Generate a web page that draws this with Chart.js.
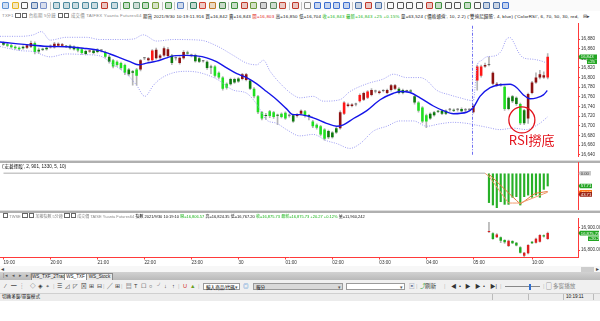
<!DOCTYPE html>
<html>
<head>
<meta charset="utf-8">
<title>TXF1 台指期 5分鐘</title>
<script src="https://cdn.jsdelivr.net/npm/chart.js@4.4.1/dist/chart.umd.min.js"></script>
<style>
  body { margin: 0; width: 600px; height: 321px; overflow: hidden; background: #fff; position: relative;
         font-family: "Liberation Sans", "Noto Sans CJK TC", sans-serif; }
  canvas { position: absolute; left: 0; }
  .abs { position: absolute; }
  .info { position: absolute; white-space: nowrap; font-size: 4.6px; line-height: 6px; color: #111; }
  .hdr { font-size: 4.4px; letter-spacing: 0.2px; }
  .hdr2 { font-size: 4px; }
  .gy { color: #8a8a8a; }
  .r { color: #e01818; }
  .g { color: #16b316; }
  .bx { display: inline-block; width: 3.2px; height: 3.2px; border: 0.7px solid #666; vertical-align: -0.4px; margin: 0 0.5px; }
  .sep { position: absolute; left: 0; width: 600px; height: 1.6px; background: #b0b0b0; border-top: 0.6px solid #dedede; }
  .tab { position: absolute; top: 273px; height: 6px; line-height: 6px; font-size: 4.6px; text-align: center;
         background: #e6e6e6; border: 0.5px solid #8a8a8a; border-bottom: none; color: #222; }
  .tab.act { background: #fff; }
  .box { position: absolute; border: 0.6px solid #9a9a9a; height: 7px; line-height: 7px; font-size: 4.6px; padding-left: 2px; box-sizing: border-box; }
</style>
</head>
<body>

<div id="toolbar" class="abs" style="left:0;top:0;width:600px;height:11px;background:#fafafa"></div>

<div class="info hdr" style="top:12.5px;left:2px"><span class="gy">TXF1 <i class="bx"></i><i class="bx"></i> 台指期 5分鐘 <i class="bx"></i><i class="bx"></i> 成交價 TAIFEX Yuanta Futures64</span> 期貨 2021/9/30 10:19:11.916 買=16,842 賣=16,843 <span class="r">開=16,803</span> 高=16,850 低=16,704 <span class="g">收=16,843 最新=16,843 +25 +0.15%</span> 量=63,524 ('價格通道', 10, 2.2) ('雙迪尼歸隨', 4, blue) ('ColorRSI', 6, 70, 50, 30, red,</div>
<div class="info" style="top:12.5px;left:583px;font-size:5px;color:#333">⊟▸</div>

<canvas id="main" width="600" height="140" style="top:20px"></canvas>
<div class="sep" style="top:160px"></div>

<canvas id="osc" width="600" height="48" style="top:162px"></canvas>
<div class="info" style="top:163.5px;left:2px">('宏碁擇股', 2, 901, 1330, 5, 10)</div>
<div class="sep" style="top:210px"></div>

<canvas id="twse" width="600" height="58" style="top:212px"></canvas>
<div class="info hdr2" style="top:213px;left:2px"><i class="bx"></i> <span class="gy">TWSE <i class="bx"></i><i class="bx"></i> 加權指數 5分鐘 <i class="bx"></i><i class="bx"></i> 成交價 TAISE Yuanta Futures64</span> 指數 2021/9/30 10:19:10 <span class="g">開=16,806.57</span> 高=16,824.35 低=16,767.20 <span class="g">收=16,875.73 最新=16,875.73 +20.27 +0.12%</span> 量=11,960,242</div>

<!-- scroll bar -->
<div class="abs" style="top:265.5px;left:0;width:600px;height:6.5px;background:#f7f7f7"></div>
<div class="info" style="top:265.5px;left:1px;font-size:5.5px;color:#444">◂</div>
<div class="abs" style="top:266.5px;left:581px;width:13px;height:5px;background:#cdcdcd"></div>
<div class="info" style="top:265.5px;left:595.5px;font-size:5.5px;color:#444">▸</div>

<!-- sheet tabs -->
<div class="abs" style="top:272px;left:0;width:600px;height:8px;background:linear-gradient(#d2d2d2,#bababa)"></div>
<div class="info" style="top:273px;left:3px;color:#555;letter-spacing:1.3px">|◂ ◂ ▸ ▸|</div>
<div class="tab" style="left:31px;width:33px">WS_TXF_2Trade</div>
<div class="tab act" style="left:64px;width:21px">WS_TXF</div>
<div class="tab" style="left:86px;width:25px">WS_Stock</div>

<!-- drawing tool row -->
<div id="tools" class="abs" style="top:280px;left:0;width:600px;height:13px;background:#f0f0f0"></div>

<!-- status bar -->
<div class="abs" style="top:293px;left:0;width:600px;height:7px;background:#ececec;border-top:0.5px solid #d0d0d0"></div>
<div class="info" style="top:293.5px;left:2px">切換多窗/單窗模式</div>
<div class="abs" style="top:294px;left:491.5px;width:0.6px;height:6px;background:#bbb"></div>
<div class="abs" style="top:294px;left:528px;width:0.6px;height:6px;background:#bbb"></div>
<div class="abs" style="top:294px;left:563px;width:0.6px;height:6px;background:#bbb"></div>
<div class="abs" style="top:294px;left:593px;width:0.6px;height:6px;background:#bbb"></div>
<div class="info" style="top:293.5px;left:566px">10:19:11</div>

<script>
'use strict';

function byId(id) { return document.getElementById(id); }
function _(tag) { return document.createElement(tag); }

// ---- TXF1 5-min bars: slot 0 = 19:00 ... slot 120 = 05:00, slot 121 = 08:50 ... slot 139 = 10:20
const txfOpen = [
  16872, 16869, 16867, 16864, 16862, 16864, 16862, 16864, 16872, 16858,
  16859, 16862, 16863, 16863, 16866, 16866, 16865, 16866, 16864, 16862,
  16859, 16855, 16854, 16856, 16858, 16856, 16853, 16843, 16836, 16833,
  16830, 16826, 16817, 16813, 16817, 16817, 16840, 16836, 16836, 16840,
  16841, 16846, 16845, 16846, 16840, 16830, 16840, 16851, 16846, 16847,
  16840, 16834, 16833, 16823, 16823, 16810, 16800, 16787, 16797, 16797,
  16798, 16797, 16795, 16794, 16777, 16761, 16728, 16722, 16730, 16728,
  16722, 16725, 16727, 16721, 16722, 16720, 16725, 16730, 16721, 16709,
  16702, 16699, 16692, 16689, 16686, 16695, 16695, 16725, 16741, 16741,
  16744, 16751, 16754, 16758, 16764, 16771, 16768, 16772, 16768, 16774,
  16777, 16777, 16774, 16772, 16773, 16761, 16748, 16738, 16722, 16725,
  16728, 16730, 16731, 16731, 16733, 16732, 16733, 16735, 16732, 16733,
  16728, 16794, 16804, 16823, 16826, 16787, 16784, 16785, 16781, 16758,
  16761, 16758, 16745, 16732, 16715, 16768, 16790, 16800, 16800, 16800
];
const txfHigh = [
  16874, 16871, 16869, 16866, 16864, 16866, 16869, 16876, 16874, 16861,
  16861, 16864, 16868, 16873, 16872, 16871, 16867, 16868, 16866, 16864,
  16861, 16857, 16857, 16858, 16860, 16858, 16855, 16846, 16838, 16835,
  16832, 16828, 16819, 16815, 16819, 16838, 16842, 16842, 16858, 16861,
  16848, 16864, 16862, 16848, 16843, 16843, 16856, 16855, 16849, 16849,
  16842, 16836, 16835, 16826, 16825, 16812, 16802, 16789, 16799, 16799,
  16800, 16809, 16809, 16796, 16779, 16763, 16730, 16726, 16732, 16730,
  16724, 16727, 16729, 16724, 16724, 16725, 16733, 16732, 16723, 16711,
  16704, 16701, 16694, 16691, 16688, 16697, 16731, 16750, 16747, 16746,
  16747, 16766, 16770, 16773, 16777, 16774, 16773, 16775, 16776, 16786,
  16786, 16779, 16776, 16774, 16775, 16763, 16750, 16740, 16724, 16727,
  16730, 16732, 16733, 16733, 16736, 16735, 16736, 16737, 16736, 16735,
  16744, 16826, 16826, 16830, 16843, 16812, 16790, 16788, 16783, 16760,
  16763, 16760, 16747, 16734, 16768, 16792, 16810, 16815, 16812, 16850
];
const txfLow = [
  16866, 16864, 16861, 16859, 16857, 16859, 16860, 16862, 16849, 16850,
  16856, 16857, 16861, 16861, 16864, 16864, 16862, 16859, 16857, 16853,
  16848, 16847, 16852, 16849, 16851, 16853, 16841, 16830, 16820, 16823,
  16817, 16806, 16804, 16784, 16784, 16814, 16837, 16834, 16834, 16838,
  16839, 16844, 16843, 16827, 16836, 16828, 16838, 16848, 16843, 16832,
  16831, 16832, 16817, 16808, 16801, 16797, 16774, 16776, 16784, 16788,
  16790, 16795, 16793, 16775, 16758, 16725, 16712, 16713, 16717, 16715,
  16702, 16716, 16713, 16718, 16707, 16718, 16723, 16718, 16712, 16696,
  16693, 16679, 16670, 16673, 16674, 16684, 16693, 16723, 16739, 16739,
  16741, 16749, 16752, 16756, 16762, 16768, 16766, 16770, 16766, 16772,
  16775, 16766, 16766, 16770, 16769, 16745, 16728, 16706, 16696, 16713,
  16720, 16727, 16723, 16723, 16730, 16729, 16730, 16728, 16729, 16731,
  16726, 16774, 16801, 16821, 16824, 16785, 16782, 16782, 16732, 16733,
  16748, 16742, 16702, 16702, 16705, 16766, 16788, 16797, 16798, 16797
];
const txfClose = [
  16868, 16866, 16863, 16861, 16859, 16861, 16867, 16872, 16853, 16854,
  16858, 16859, 16866, 16870, 16870, 16869, 16864, 16861, 16859, 16856,
  16851, 16849, 16855, 16851, 16853, 16856, 16843, 16833, 16823, 16826,
  16820, 16810, 16807, 16810, 16804, 16836, 16840, 16840, 16856, 16858,
  16846, 16861, 16859, 16830, 16840, 16841, 16853, 16850, 16846, 16834,
  16833, 16834, 16820, 16821, 16804, 16800, 16777, 16779, 16786, 16790,
  16792, 16807, 16807, 16777, 16761, 16728, 16715, 16720, 16720, 16718,
  16721, 16718, 16715, 16721, 16709, 16722, 16731, 16720, 16720, 16699,
  16696, 16682, 16673, 16676, 16676, 16686, 16728, 16748, 16744, 16744,
  16744, 16764, 16768, 16771, 16774, 16771, 16771, 16772, 16774, 16784,
  16784, 16768, 16768, 16772, 16771, 16748, 16731, 16709, 16709, 16715,
  16722, 16729, 16725, 16725, 16733, 16731, 16733, 16730, 16732, 16733,
  16741, 16823, 16823, 16826, 16826, 16810, 16787, 16784, 16735, 16735,
  16751, 16745, 16705, 16705, 16766, 16790, 16800, 16807, 16805, 16843
];
// bars drawn in the bright tone
const brightBars = [1, 2, 3, 4, 8, 19, 20, 26, 28, 29, 30, 31, 34, 38, 54, 55, 56, 57, 64, 65, 66,
  68, 69, 71, 72, 77, 79, 80, 81, 82, 87, 91, 93, 106, 107, 108, 121, 122, 128, 132, 139];

// moving average and price channel at these slots
const maSlots = [-0.9, 7.6, 11.9, 16.1, 20.4, 24.6, 27.2, 29.8, 32.3, 34.4, 36.6, 39.1, 41.7, 43.4, 46.8,
  49.3, 51.9, 54.4, 57.0, 59.6, 62.1, 64.7, 67.2, 69.8, 72.3, 74.0, 75.7, 79.1, 82.5, 85.1, 86.8, 89.4,
  92.8, 96.2, 99.6, 101.3, 103.8, 106.4, 109.8, 112.3, 114.9, 118.3, 120.0, 121.7, 124.3, 126.8, 129.4,
  131.1, 132.8, 134.5, 136.2, 137.9, 138.9];
const maValues = [16874, 16867, 16864.5, 16864, 16861, 16856, 16849, 16841, 16833, 16826.5, 16830, 16834,
  16841, 16845, 16846, 16845, 16841, 16833, 16820, 16808, 16800, 16787, 16771, 16754, 16735, 16723, 16723,
  16716.5, 16705, 16699, 16702, 16715, 16731.5, 16754, 16767.5, 16771, 16769, 16758, 16741, 16731.5, 16725,
  16728, 16738, 16761, 16779, 16785, 16786, 16779, 16764, 16756, 16758, 16764, 16773];
const upperSlots = [-0.9, 4.2, 7.6, 9.7, 11.9, 16.1, 21.2, 24.6, 29.8, 33.2, 35.7, 39.1, 43.4, 50.2, 54.4,
  58.7, 62.1, 64.7, 66.4, 68.1, 71.5, 74.0, 75.7, 79.1, 81.7, 85.9, 88.5, 92.8, 97.0, 99.6, 103.0, 106.4,
  108.1, 110.6, 114.0, 116.6, 120.0, 121.0, 122.0, 123.4, 125.5, 127.2, 128.4, 129.4, 130.4, 131.5, 132.8,
  135.3, 137.9, 138.7];
const upperValues = [16885.6, 16885.6, 16888.7, 16895.4, 16877.7, 16883.6, 16883.6, 16879, 16879, 16880,
  16888.7, 16875.8, 16879, 16877.7, 16866, 16846, 16830, 16826.5, 16836, 16813, 16781, 16764, 16758, 16761,
  16751, 16754, 16771, 16787, 16797, 16807, 16800, 16800, 16794, 16774, 16764, 16758, 16752, 16826, 16835,
  16843, 16845, 16856, 16879, 16883, 16872, 16853, 16841, 16838, 16833, 16830];
const lowerSlots = [-0.9, 4.2, 7.6, 11.9, 16.1, 21.2, 24.6, 28.1, 31.5, 34.0, 36.1, 38.3, 40.0, 43.4, 46.8,
  50.2, 54.4, 58.7, 62.1, 64.7, 67.2, 69.8, 72.3, 75.7, 79.1, 82.5, 85.1, 88.5, 91.1, 94.5, 97.9, 101.3,
  104.7, 108.1, 111.5, 114.9, 118.3, 120.9, 123.4, 126.8, 130.2, 133.6, 135.3, 137.0, 138.9];
const lowerValues = [16864.5, 16856, 16854, 16843, 16849, 16847.5, 16845, 16826.5, 16807, 16784, 16761,
  16784, 16797, 16810, 16813, 16810, 16797, 16774, 16767.5, 16744.6, 16712, 16705, 16692, 16679, 16682,
  16669, 16663, 16653, 16663, 16689, 16699, 16710, 16710, 16699, 16704, 16707, 16705, 16701, 16697, 16692,
  16695, 16692, 16697, 16705, 16718];

const priceTicks = [16640, 16660, 16680, 16700, 16720, 16740, 16760, 16780, 16800, 16820, 16840, 16860, 16880];
const sessionBreak = 119.75;
const bottomMark = { slot: 132.4, value: 16712 };
const bottomNote = { slot: 134.9, value: 16671, text: 'RSI撈底' };

// ---- '宏碁擇股' oscillator (day session only)
const oscFirstSlot = 124;
const oscBars = [133, 144, 156, 129, 141, 141, 109, 106, 144, 106, 99, 109, 99, 109, 73, 57.7];
const oscFastFirstSlot = 123;
const oscFast = [0, 14, 38, 62, 87, 111, 135, 135, 135, 135, 128, 121, 114, 107, 100, 93, 86];
const oscSlow = [4, 21, 38, 55, 72, 89, 106, 123, 139, 127, 114, 100, 90, 88, 85, 83];
const oscBaseSlots = [0, 123];
const oscBaseValues = [0, 0];

// ---- TWSE 加權指數 5-min bars, 09:05 .. 10:20
const twseFirstSlot = 124;
const twseOpen  = [16881, 16875, 16857, 16857, 16845, 16818, 16840, 16832, 16812, 16774, 16785, 16837, 16833, 16837, 16866, 16849];
const twseHigh  = [16924, 16878, 16874, 16859, 16847, 16844, 16842, 16834, 16815, 16790, 16824, 16839, 16853, 16869, 16868, 16880];
const twseLow   = [16878, 16847, 16855, 16833, 16830, 16815, 16828, 16818, 16786, 16770, 16783, 16828, 16831, 16835, 16858, 16847];
const twseClose = [16885, 16849, 16869, 16842, 16835, 16842, 16830, 16820, 16788, 16788, 16822, 16830, 16851, 16867, 16860, 16876];
const indexTicks = [16800, 16900];

const timeTickSlots  = [0, 12, 24, 36, 48, 60, 72, 84, 96, 108, 120, 135];
const timeTickLabels = ['19:00', '20:00', '21:00', '22:00', '23:00', '30', '01:00', '02:00', '03:00', '04:00', '05:00', '10:00'];

const xMin = -0.894;
const xMax = 146.74;

// ---- helpers
function pts(slots, values) { return values.map((v, i) => ({ x: slots[i], y: v })); }
function run(first, values) { return values.map((v, i) => ({ x: first + i, y: v })); }
function ranges(first, a, b) { return a.map((v, i) => ({ x: first + i, y: [v, b[i]] })); }

const AXIS_RED = '#ff3a3a';
const tickFont = { family: 'Liberation Sans', size: 4.6 };

function rightAxis(extra) {
  return Object.assign({
    position: 'right',
    afterFit: s => { s.width = 22; },
    grid: { drawOnChartArea: false, tickLength: 2, color: AXIS_RED },
    border: { color: AXIS_RED, width: 1 },
    ticks: { font: tickFont, color: '#333', padding: 1 }
  }, extra);
}
function hiddenX() {
  return { type: 'linear', min: xMin, max: xMax, display: false, offset: false };
}

// price tags on the right side of a pane
const tagPlugin = {
  id: 'tags',
  afterDraw(chart, args, opts) {
    const ctx = chart.ctx;
    const sc = chart.scales.y;
    const ax = chart.chartArea.right;
    ctx.save();
    for (const t of opts.items || []) {
      const y = sc.getPixelForValue(t.value) + (t.dy || 0);
      const h = t.h || 4.6;
      const x0 = ax + 2 + (t.l || 0);
      ctx.fillStyle = t.bg;
      ctx.beginPath();
      if (!t.l) {
        ctx.moveTo(ax + 0.5, y);
        ctx.lineTo(x0, y - h / 2);
      } else {
        ctx.moveTo(x0, y - h / 2);
      }
      ctx.lineTo(x0 + t.w, y - h / 2);
      ctx.lineTo(x0 + t.w, y + h / 2);
      ctx.lineTo(x0, y + h / 2);
      ctx.closePath();
      ctx.fill();
      ctx.fillStyle = t.fg || '#fff';
      ctx.font = '4.2px "Liberation Sans"';
      ctx.textBaseline = 'middle';
      ctx.textAlign = 'left';
      ctx.fillText(t.text, x0 + 0.8, y + 0.3);
    }
    ctx.restore();
  }
};

// session separator, circle and note on the price pane
const markPlugin = {
  id: 'marks',
  afterDatasetsDraw(chart, args, opts) {
    const { ctx, chartArea } = chart;
    const xs = chart.scales.x, ys = chart.scales.y;
    ctx.save();
    if (opts.vline !== undefined) {
      const x = Math.round(xs.getPixelForValue(opts.vline)) + 0.5;
      ctx.strokeStyle = '#6f6ff2';
      ctx.lineWidth = 1;
      ctx.setLineDash([3, 1.5, 1, 1.5]);
      ctx.beginPath();
      ctx.moveTo(x, chartArea.top + 2);
      ctx.lineTo(x, chartArea.bottom);
      ctx.stroke();
      ctx.setLineDash([]);
    }
    if (opts.circle) {
      ctx.strokeStyle = '#e3121b';
      ctx.lineWidth = 1.3;
      ctx.beginPath();
      ctx.arc(xs.getPixelForValue(opts.circle.slot), ys.getPixelForValue(opts.circle.value), 13, 0, Math.PI * 2);
      ctx.stroke();
    }
    if (opts.note) {
      ctx.fillStyle = '#e3121b';
      ctx.font = '13px "Noto Sans CJK TC"';
      ctx.textAlign = 'center';
      ctx.textBaseline = 'middle';
      ctx.fillText(opts.note.text, xs.getPixelForValue(opts.note.slot), ys.getPixelForValue(opts.note.value));
    }
    ctx.restore();
  }
};

function candleColor(o, c, i, bright) {
  if (c > o) return bright.includes(i) ? '#ff1616' : '#8e1212';
  if (c < o) return bright.includes(i) ? '#20e020' : '#0e7a0e';
  return '#6a6a6a';
}

const baseOptions = {
  responsive: false,
  animation: false,
  events: [],
  layout: { padding: 0 },
  plugins: { legend: { display: false }, tooltip: { enabled: false } }
};

// ---- price pane
new Chart(byId('main'), {
  data: {
    datasets: [
      {
        type: 'bar', grouped: false, order: 4,
        data: ranges(0, txfLow, txfHigh),
        backgroundColor: '#b4b4b4', barThickness: 1
      },
      {
        type: 'bar', grouped: false, order: 3, minBarLength: 1,
        data: ranges(0, txfOpen, txfClose),
        backgroundColor: ctx => candleColor(txfOpen[ctx.dataIndex], txfClose[ctx.dataIndex], ctx.dataIndex, brightBars),
        barPercentage: 0.66, categoryPercentage: 1
      },
      {
        type: 'line', order: 2, data: pts(upperSlots, upperValues),
        borderColor: '#9c9cf2', borderWidth: 1, borderDash: [1, 1.4], pointRadius: 0, cubicInterpolationMode: 'monotone'
      },
      {
        type: 'line', order: 2, data: pts(lowerSlots, lowerValues),
        borderColor: '#9c9cf2', borderWidth: 1, borderDash: [1, 1.4], pointRadius: 0, cubicInterpolationMode: 'monotone'
      },
      {
        type: 'line', order: 1, data: pts(maSlots, maValues),
        borderColor: '#1515e8', borderWidth: 1.4, pointRadius: 0, cubicInterpolationMode: 'monotone'
      }
    ]
  },
  options: Object.assign({}, baseOptions, {
    plugins: Object.assign({}, baseOptions.plugins, {
      tags: { items: [
        { value: txfClose[139], text: '16,843', bg: '#22a622', w: 17 },
        { value: txfClose[139], dy: 4.8, l: 7, w: 10, text: '+25', bg: '#22a622' }
      ] },
      marks: { vline: sessionBreak, circle: bottomMark, note: bottomNote }
    }),
    scales: {
      x: hiddenX(),
      y: rightAxis({
        min: 16636.7, max: 16911.7, beginAtZero: false,
        afterBuildTicks: s => { s.ticks = priceTicks.map(v => ({ value: v })); }
      })
    }
  }),
  plugins: [tagPlugin, markPlugin]
});

// ---- oscillator pane
new Chart(byId('osc'), {
  data: {
    datasets: [
      {
        type: 'line', order: 1, data: pts(oscBaseSlots, oscBaseValues),
        borderColor: '#c8c8c8', borderWidth: 1.6, pointRadius: 0
      },
      {
        type: 'line', order: 1, data: run(oscFastFirstSlot, oscFast),
        borderColor: '#f29a6c', borderWidth: 1, pointRadius: 0
      },
      {
        type: 'line', order: 1, data: run(oscFirstSlot, oscSlow),
        borderColor: '#e2783a', borderWidth: 1, pointRadius: 0
      },
      {
        type: 'bar', grouped: false, order: 2,
        data: oscBars.map((v, i) => ({ x: oscFirstSlot + i, y: [0, v] })),
        backgroundColor: '#27b027', barThickness: 1.5
      }
    ]
  },
  options: Object.assign({}, baseOptions, {
    plugins: Object.assign({}, baseOptions.plugins, {
      tags: { items: [
        { value: 0, text: '0.00', bg: '#c9c9c9', fg: '#444', w: 11 },
        { value: oscBars[oscBars.length - 1], text: '57.71', bg: '#26a626', w: 12 },
        { value: oscFast[oscFast.length - 1], text: '48.58', bg: '#ff7414', w: 12 },
        { value: oscSlow[oscSlow.length - 1], dy: 2.8, text: '43.71', bg: '#9c2414', w: 12 }
      ] }
    }),
    scales: {
      x: hiddenX(),
      y: rightAxis({
        reverse: true, min: -51.3, max: 166.6, beginAtZero: false,
        ticks: { display: false },
        grid: { drawOnChartArea: false, drawTicks: false }
      })
    }
  }),
  plugins: [tagPlugin]
});

// ---- TWSE pane with the time axis
new Chart(byId('twse'), {
  data: {
    datasets: [
      {
        type: 'bar', grouped: false, order: 2,
        data: ranges(twseFirstSlot, twseLow, twseHigh),
        backgroundColor: '#b4b4b4', barThickness: 1
      },
      {
        type: 'bar', grouped: false, order: 1, minBarLength: 1,
        data: ranges(twseFirstSlot, twseOpen, twseClose),
        backgroundColor: ctx => twseClose[ctx.dataIndex] >= twseOpen[ctx.dataIndex] ? '#dd1e1e' : '#1ea81e',
        barPercentage: 0.62, categoryPercentage: 1
      }
    ]
  },
  options: Object.assign({}, baseOptions, {
    layout: { padding: { top: 6 } },
    plugins: Object.assign({}, baseOptions.plugins, {
      tags: { items: [
        { value: twseClose[15] - 0.27, text: '16,875.73', bg: '#22a622', w: 19 },
        { value: twseClose[15] - 0.27, dy: 5.6, l: 8, w: 11, text: '+20.27', bg: '#22a622' }
      ] }
    }),
    scales: {
      x: {
        type: 'linear', min: xMin, max: xMax, offset: false,
        afterFit: s => { s.height = 12.5; },
        afterBuildTicks: s => { s.ticks = timeTickSlots.map(v => ({ value: v })); },
        grid: { drawOnChartArea: false, tickLength: 2, color: AXIS_RED, offset: false },
        border: { color: AXIS_RED, width: 1 },
        ticks: {
          autoSkip: false, maxRotation: 0, minRotation: 0, align: 'start', padding: 0.5,
          font: tickFont, color: '#333',
          callback: v => timeTickLabels[timeTickSlots.indexOf(v)]
        }
      },
      y: rightAxis({
        min: 16766.4, max: 16943.5, beginAtZero: false,
        afterBuildTicks: s => { s.ticks = indexTicks.map(v => ({ value: v })); },
        ticks: {
          font: tickFont, color: '#333', padding: 1,
          callback: v => v.toLocaleString('en-US', { minimumFractionDigits: 2 })
        }
      })
    }
  }),
  plugins: [tagPlugin]
});

// ---- top toolbar icons
const topIcons = ['#5b8fd6', '#e6b422', '#555', '#4a6fa5', '#7a8fc8', '|',
  '#4d8a9e', '#4d8a9e', '#4d8a9e', '#4d8a9e', '#4d8a9e', '#c0392b', '#4d8a9e', '|',
  '#3f8f3f', '#5c8f7a', '#3f8f3f', '#7aa040', '|', '#3f8f3f', '|', '#5a7fc0', '|',
  '#2f7f5f', '#d04030', '#c07a2a', '#3f7f3f', '|', '#3f8f3f', '#c0392b', '#6a9a3a', '#6a6a6a', '#5a8a5a', '#c04030', '|',
  '#c0392b', '|', '#888', '#3d6fd0', '#3d6fd0', '#3d6fd0', '#3d6fd0', '|', '#4a6fa5', '#c0392b', '#4a6fa5', '|',
  '#555', '#555', '#555', '#555', '#c0392b', '#3f8f3f', '#555', '#555', '#3f8f3f', '#555', '#4a6fa5', '#4a6fa5', '#3d6fd0'];
(function buildToolbar() {
  const bar = byId('toolbar');
  let x = 2;
  for (const c of topIcons) {
    const d = _('div');
    d.className = 'abs';
    if (c === '|') {
      d.style.cssText = `left:${x}px;top:1.5px;width:0.6px;height:8px;background:#c4c4c4`;
      x += 3;
    } else {
      d.style.cssText = `left:${x}px;top:2px;width:7px;height:7px;border:0.8px solid ${c};background:${c}44;border-radius:1px;box-sizing:border-box`;
      x += 9.6;
    }
    bar.appendChild(d);
  }
})();

// ---- drawing tool row
const toolGlyphs = [
  [5, '⁄'], [11, '━'], [19, '┆'], [30, '◇'], [38, '◈'], [46, '⌖'], [53, '|'],
  [57, '☰'], [65, '◿'], [73, '◸'], [81, '⊠'], [89, '⊞'], [97, '⊟'], [103, '|'],
  [107, '╱'], [115, '⊞'], [121, '|'], [126, '▤'], [134, 'T'], [141, '☐'], [149, '○'], [157, '╯'],
  [164, '↓'], [172, '↑'], [178, '|'], [183, 'U', '#d02020'], [190, '▲', '#6aa020'], [198, '|'],
  [243, '◎', '#2f7fd0'], [409, '▣', '#6a7a9a'], [416, '|'], [420, '⤴', '#2f9f2f'], [425, '刷新'], [444, '|'],
  [451, '◀'], [459, '•'], [465, '▶'], [475, '▶'], [483, '•'], [490, '▶|'], [500, '|'], [543, '|'],
  [546, '▢'], [553, '多窗播放', '#888']
];
(function buildTools() {
  const row = byId('tools');
  for (const [x, t, c] of toolGlyphs) {
    const s = _('div');
    s.className = 'info';
    s.style.cssText = `left:${x}px;top:3px;font-size:5.6px;line-height:7px;color:${c || (t === '|' ? '#bbb' : '#333')}`;
    s.textContent = t;
    row.appendChild(s);
  }
  const boxes = [
    [203, 37, '#fff', '輸入商品/代碼'],
    [253, 90, '#d9d9d9', '報分'],
    [346, 59, '#fff', '']
  ];
  for (const [x, w, bg, t] of boxes) {
    const b = _('div');
    b.className = 'box';
    b.style.cssText = `left:${x}px;top:3px;width:${w}px;background:${bg}`;
    b.textContent = t;
    const arrow = _('span');
    arrow.style.cssText = 'position:absolute;right:1px;top:0;color:#555';
    arrow.textContent = '▾';
    b.appendChild(arrow);
    row.appendChild(b);
  }
  const line = _('div');
  line.className = 'abs';
  line.style.cssText = 'left:505px;top:6.3px;width:35px;height:0.7px;background:#888';
  row.appendChild(line);
  const thumb = _('div');
  thumb.className = 'abs';
  thumb.style.cssText = 'left:529px;top:3.5px;width:2px;height:6px;background:#2f6fd0';
  row.appendChild(thumb);
})();
</script>
</body>
</html>
